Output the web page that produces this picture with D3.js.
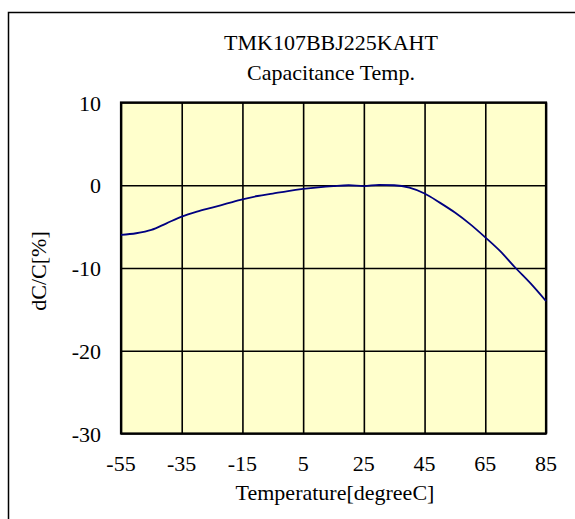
<!DOCTYPE html>
<html lang="en">
  <head>
    <meta charset="UTF-8" />
    <script src="https://d3js.org/d3.v7.min.js"></script>
    <title></title>
    <style>
      body { margin: 0; background: #fff; }
      text { font-family: 'Liberation Serif', 'Times New Roman', serif; fill: #000; font-size: 22px; }
    </style>
  </head>
  <body>
    <div id="my_dataviz"></div>
    <script>
      // curve
      const temps = [-55, -50, -45, -40, -35, -30, -25, -20, -15, -10, -5, 0, 5, 10, 15, 20, 25, 30, 35, 40, 45, 50, 55, 60, 65, 70, 75, 80, 85]
      const dcc = [-6.0, -5.8, -5.4, -4.6, -3.8, -3.2, -2.7, -2.2, -1.7, -1.3, -1.0, -0.7, -0.45, -0.25, -0.1, 0, -0.1, 0.05, 0, -0.3, -1.0, -2.1, -3.3, -4.7, -6.3, -8.0, -10.0, -11.9, -14.0]
      const xTicks = [-55, -35, -15, 5, 25, 45, 65, 85]
      const yTicks = [-30, -20, -10, 0, 10]
      const titleLines = ['TMK107BBJ225KAHT', 'Capacitance Temp.']

      const margin = { top: 102.5, left: 121 },
        width = 425,
        height = 331

      const svg = d3
        .select('#my_dataviz')
        .append('svg')
        .attr('width', 575)
        .attr('height', 519)

      // outer frame (only left and top are inside the picture)
      svg
        .append('rect')
        .attr('x', 8.5)
        .attr('y', 12.5)
        .attr('width', 600)
        .attr('height', 600)
        .attr('fill', 'none')
        .attr('stroke', '#000')
        .attr('stroke-width', 1.5)

      const g = svg.append('g').attr('transform', `translate(${margin.left}, ${margin.top})`)

      const x = d3.scaleLinear().domain([-55, 85]).range([0, width])
      const y = d3.scaleLinear().domain([-30, 10]).range([height, 0])

      g.append('rect')
        .attr('width', width)
        .attr('height', height)
        .attr('fill', '#ffffcc')

      // grid
      g.append('g')
        .attr('transform', `translate(0, ${height})`)
        .call(d3.axisBottom(x).tickValues(xTicks).tickSize(-height).tickFormat(''))
        .call(a => a.select('.domain').remove())
        .selectAll('line')
        .attr('stroke', '#000')
        .attr('stroke-width', 1.6)

      g.append('g')
        .call(d3.axisLeft(y).tickValues(yTicks).tickSize(-width).tickFormat(''))
        .call(a => a.select('.domain').remove())
        .selectAll('line')
        .attr('stroke', '#000')
        .attr('stroke-width', 1.6)

      g.append('rect')
        .attr('width', width)
        .attr('height', height)
        .attr('fill', 'none')
        .attr('stroke', '#000')
        .attr('stroke-width', 2.2)

      // tick labels
      g.selectAll('.xl')
        .data(xTicks)
        .join('text')
        .attr('x', d => x(d))
        .attr('y', height + 37)
        .attr('text-anchor', 'middle')
        .text(d => d)

      g.selectAll('.yl')
        .data(yTicks)
        .join('text')
        .attr('x', -20)
        .attr('y', d => y(d) + 8)
        .attr('text-anchor', 'end')
        .text(d => d)

      // curve
      const pts = temps.map((t, i) => [t, dcc[i]])
      g.append('path')
        .datum(pts)
        .attr('d', d3.line().x(d => x(d[0])).y(d => y(d[1])).curve(d3.curveMonotoneX))
        .attr('fill', 'none')
        .attr('stroke', '#000080')
        .attr('stroke-width', 1.8)

      // titles
      svg.selectAll('.tt')
        .data(titleLines)
        .join('text')
        .attr('x', 331)
        .attr('y', (d, i) => 50 + i * 29.5)
        .attr('text-anchor', 'middle')
        .text(d => d)

      svg.append('text')
        .attr('x', 335)
        .attr('y', 500)
        .attr('text-anchor', 'middle')
        .text('Temperature[degreeC]')

      svg.append('text')
        .attr('transform', 'translate(46, 271) rotate(-90)')
        .attr('text-anchor', 'middle')
        .text('dC/C[%]')
    </script>
  </body>
</html>
